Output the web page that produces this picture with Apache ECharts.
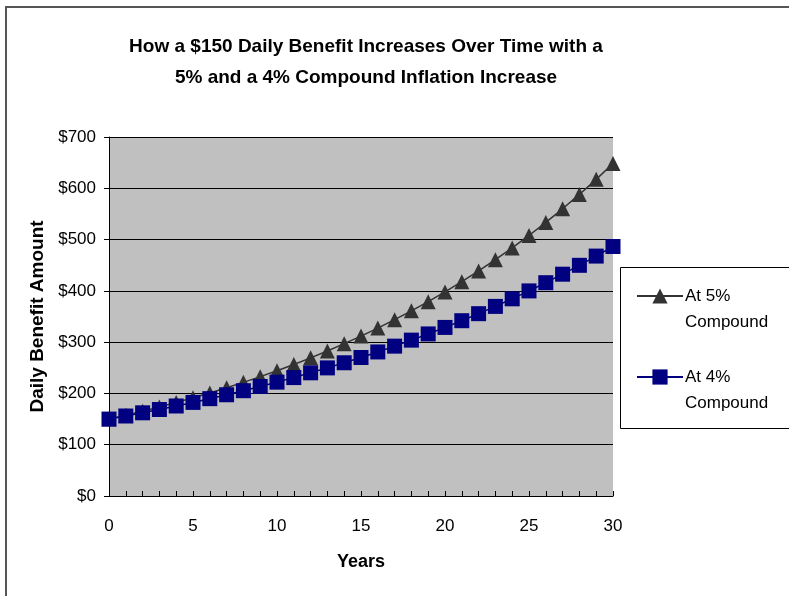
<!DOCTYPE html>
<html>
<head>
<meta charset="utf-8">
<script src="https://cdn.jsdelivr.net/npm/echarts@6/dist/echarts.min.js"></script>
<style>html,body{margin:0;padding:0;background:#fff}#c{width:789px;height:596px}</style>
</head>
<body>
<div id="c"></div>
<script>
var years = [0,1,2,3,4,5,6,7,8,9,10,11,12,13,14,15,16,17,18,19,20,21,22,23,24,25,26,27,28,29,30];
var at5 = [150,157.5,165.4,173.6,182.3,191.4,201.0,211.1,221.6,232.7,244.3,256.5,269.4,282.8,297.0,311.8,327.4,343.8,361.0,379.0,398.0,417.9,438.8,460.7,483.8,508.0,533.4,560.0,588.0,617.4,648.3];
var at4 = [150,156.0,162.2,168.7,175.5,182.5,189.8,197.4,205.3,213.5,222.0,230.9,240.2,249.8,259.8,270.1,280.9,292.2,303.9,316.0,328.7,341.8,355.5,369.7,384.5,399.9,415.9,432.5,449.8,467.8,486.5];
var seriesNames = ['At 5%','At 4%'];
var titleText = 'How a $150 Daily Benefit Increases Over Time with a\n5% and a 4% Compound Inflation Increase';

function pairs(vals){ return years.map(function(y,i){ return [y, vals[i]]; }); }
var font = 'Liberation Sans, Arial, sans-serif';
var chart = echarts.init(document.getElementById('c'));
chart.setOption({
  backgroundColor: '#fff',
  animation: false,
  title: {
    text: titleText,
    left: 361, top: 26, textAlign: 'center',
    textStyle: {fontFamily: font, fontSize: 19, fontWeight: 'bold', color: '#000', lineHeight: 31}
  },
  graphic: [
    {type:'rect', shape:{x:6, y:7, width:900, height:700}, style:{fill:'none', stroke:'#555', lineWidth:2}, z:0},
    {type:'rect', shape:{x:620.5, y:267.5, width:300, height:161}, style:{fill:'#fff', stroke:'#000', lineWidth:1}, z:1}
  ],
  legend: {
    orient: 'vertical', left: 636, top: 257, padding: 0, itemGap: 3,
    itemWidth: 46, itemHeight: 19, z: 5,
    data: seriesNames,
    formatter: function(n){ return '\n' + n + '\nCompound'; },
    textStyle: {fontFamily: font, fontSize: 17, color: '#000', lineHeight: 26, padding:[0,0,0,-3]}
  },
  grid: {left: 109, top: 137, right: 176, bottom: 100, show: true, backgroundColor: '#c0c0c0', borderWidth: 0},
  xAxis: {
    type: 'value', min: 0, max: 30, interval: 1,
    name: 'Years', nameLocation: 'middle', nameGap: 57,
    nameTextStyle: {fontFamily: font, fontSize: 18, fontWeight: 'bold', color: '#000'},
    axisLine: {show: true, lineStyle: {color: '#000', width: 1}},
    axisTick: {show: true, inside: true, length: 5, lineStyle: {color: '#000'}},
    axisLabel: {fontFamily: font, fontSize: 17, color: '#000', margin: 22,
      formatter: function(v){ return v % 5 === 0 ? String(v) : ''; }},
    splitLine: {show: false}
  },
  yAxis: {
    type: 'value', min: 0, max: 700, interval: 100,
    name: 'Daily Benefit Amount', nameLocation: 'middle', nameGap: 60,
    nameTextStyle: {fontFamily: font, fontSize: 19, fontWeight: 'bold', color: '#000'},
    axisLine: {show: true, lineStyle: {color: '#000', width: 1}},
    axisTick: {show: true, inside: false, length: 5, lineStyle: {color: '#000'}},
    axisLabel: {fontFamily: font, fontSize: 17, color: '#000', margin: 13,
      formatter: function(v){ return '$' + v; }},
    splitLine: {show: true, lineStyle: {color: '#000', width: 1}}
  },
  series: [
    {name: seriesNames[0], type: 'line', data: pairs(at5), symbol: 'triangle', symbolSize: 15,
      lineStyle: {color: '#333', width: 1.5}, itemStyle: {color: '#333'}, z: 3},
    {name: seriesNames[1], type: 'line', data: pairs(at4), symbol: 'rect', symbolSize: 15,
      lineStyle: {color: '#000080', width: 1.5}, itemStyle: {color: '#000080'}, z: 4}
  ]
});
</script>
</body>
</html>
